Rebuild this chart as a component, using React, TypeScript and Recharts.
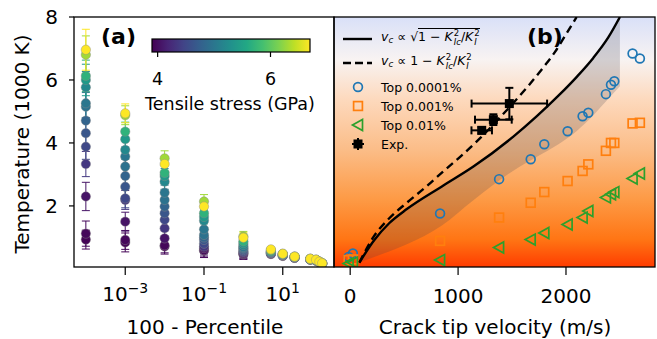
import React from 'react';
import { ComposedChart, Scatter, Line, Area, XAxis, YAxis, ErrorBar, CartesianGrid } from 'recharts';

const FONT = '"DejaVu Sans", Verdana, sans-serif';

// ---- panel (a): temperature vs 100 - percentile, one series per tensile stress
const percentiles = [1e-4, 1e-3, 1e-2, 1e-1, 1, 5, 10, 20, 50, 70, 85, 100];
const stresses = [3.92, 3.95, 4.05, 4.35, 4.5, 4.65, 4.8, 4.95, 5.0, 5.2, 5.4, 5.7, 6.3, 6.7];

// temperatures (1000 K), one value per stress, for each percentile column
const tempTop0p0001 = [0.93, 1.12, 2.3, 3.33, 3.88, 4.31, 4.71, 5.15, 5.26, 5.77, 6.0, 6.13, 6.8, 6.96];
const tempTop0p001 = [0.84, 0.92, 1.5, 2.19, 2.24, 2.61, 2.95, 3.25, 3.57, 3.78, 4.12, 4.36, 4.88, 4.94];
const tempTop0p01 = [0.71, 0.75, 0.97, 1.29, 1.56, 1.77, 1.98, 2.19, 2.42, 2.77, 2.95, 3.05, 3.51, 3.33];
const tempTop0p1 = [0.58, 0.6, 0.66, 0.71, 0.8, 0.92, 1.0, 1.08, 1.26, 1.53, 1.65, 1.77, 2.14, 1.98];
const tempTop1 = [0.46, 0.48, 0.5, 0.53, 0.56, 0.6, 0.64, 0.67, 0.7, 0.76, 0.82, 0.88, 1.03, 0.99];
const tempTop5 = [0.47, 0.48, 0.49, 0.5, 0.5, 0.51, 0.52, 0.53, 0.54, 0.55, 0.56, 0.57, 0.6, 0.62];
const tempTop10 = [0.41, 0.42, 0.42, 0.43, 0.43, 0.44, 0.44, 0.45, 0.45, 0.46, 0.46, 0.47, 0.48, 0.48];
const tempTop20 = [0.35, 0.35, 0.36, 0.36, 0.36, 0.37, 0.37, 0.37, 0.38, 0.38, 0.38, 0.39, 0.39, 0.39];
const tempTop50 = [0.29, 0.29, 0.3, 0.3, 0.3, 0.3, 0.31, 0.31, 0.31, 0.31, 0.32, 0.32, 0.32, 0.32];
const tempTop70 = [0.26, 0.26, 0.27, 0.27, 0.27, 0.27, 0.28, 0.28, 0.28, 0.28, 0.28, 0.29, 0.29, 0.29];
const tempTop85 = [0.21, 0.21, 0.21, 0.22, 0.22, 0.22, 0.22, 0.22, 0.23, 0.23, 0.23, 0.23, 0.23, 0.23];
const tempTop100 = [0.16, 0.16, 0.16, 0.17, 0.17, 0.17, 0.17, 0.17, 0.17, 0.18, 0.18, 0.18, 0.18, 0.18];
const columnTemps = [
  tempTop0p0001, tempTop0p001, tempTop0p01, tempTop0p1, tempTop1, tempTop5,
  tempTop10, tempTop20, tempTop50, tempTop70, tempTop85, tempTop100,
];
// error bars: first column per stress, the rest per column
const errTop0p0001 = [0.3, 0.4, 0.45, 0.4, 0.4, 0.42, 0.45, 0.45, 0.45, 0.5, 0.5, 0.5, 0.6, 0.65];
const columnErr = [0, 0.3, 0.24, 0.22, 0.16, 0.03, 0, 0, 0, 0, 0, 0];

// ---- panel (b): temperature vs crack tip velocity
const velocities = [-15, 25, 833, 1380, 1673, 1799, 2015, 2154, 2207, 2370, 2417, 2448, 2617, 2685];
const tempBlue = [0.38, 0.49, 1.76, 2.85, 3.48, 3.96, 4.37, 4.85, 4.96, 5.55, 5.85, 5.96, 6.84, 6.68];
const tempOrange = [0.28, 0.3, 0.89, 1.63, 2.1, 2.44, 2.79, 3.11, 3.32, 3.75, 4.0, 4.0, 4.62, 4.64];
const tempGreen = [0.17, 0.2, 0.28, 0.68, 0.93, 1.14, 1.41, 1.63, 1.84, 2.27, 2.37, 2.44, 2.87, 3.03];

const expV = [1475, 1327, 1219];
const expT = [5.25, 4.74, 4.4];
const expVErr = [350, 170, 95];
const expTErr = [0.5, 0.17, 0.1];

const solidV = [85, 222, 361, 525, 850, 1142, 1512, 1730, 1930, 2100, 2253, 2392, 2500];
const solidT = [0.2, 0.91, 1.45, 1.9, 2.62, 3.25, 4.2, 4.85, 5.5, 6.1, 6.7, 7.35, 8.0];
const dashedV = [85, 213, 360, 528, 700, 864, 1019, 1204, 1380, 1528, 1660, 1790, 1900, 1991, 2099];
const dashedT = [0.2, 1.0, 1.6, 2.11, 2.6, 3.1, 3.56, 4.15, 4.78, 5.33, 5.85, 6.4, 6.9, 7.4, 8.0];

// shaded band: upper edge follows the solid curve, lower edge
const bandV = [85, 222, 361, 525, 850, 1142, 1512, 1730, 1930, 2100, 2253, 2392, 2500];
const bandLow = [0.2, 0.38, 0.55, 0.78, 1.38, 2.18, 3.12, 3.56, 3.96, 4.38, 4.88, 5.4, 5.8];
const bandHigh = [0.2, 0.91, 1.45, 1.9, 2.62, 3.25, 4.2, 4.85, 5.5, 6.1, 6.7, 7.35, 8.0];

const VIRIDIS = ['#440154', '#482475', '#414487', '#355f8d', '#2a788e', '#21918c', '#22a884', '#44bf70', '#7ad151', '#bddf26', '#fde725'];
const STRESS_MIN = 3.9;
const STRESS_MAX = 6.7;

function hexToRgb(h: string) {
  return [parseInt(h.slice(1, 3), 16), parseInt(h.slice(3, 5), 16), parseInt(h.slice(5, 7), 16)];
}

function viridis(t: number): string {
  const c = Math.max(0, Math.min(1, t)) * 10;
  const i = Math.min(9, Math.floor(c));
  const f = c - i;
  const a = hexToRgb(VIRIDIS[i]);
  const b = hexToRgb(VIRIDIS[i + 1]);
  const m = a.map((v, k) => Math.round(v + (b[k] - v) * f));
  return `rgb(${m[0]},${m[1]},${m[2]})`;
}

const stressSeries = stresses.map((s, si) => ({
  stress: s,
  color: viridis((s - STRESS_MIN) / (STRESS_MAX - STRESS_MIN)),
  points: percentiles.map((p, ci) => ({
    p,
    t: columnTemps[ci][si],
    e: ci === 0 ? errTop0p0001[si] : columnErr[ci],
  })),
}));

const toPoints = (xs: number[], ys: number[]) => xs.map((x, i) => ({ x, y: ys[i] }));
const bluePts = toPoints(velocities, tempBlue);
const orangePts = toPoints(velocities, tempOrange);
const greenPts = toPoints(velocities, tempGreen);
const solidPts = toPoints(solidV, solidT);
const dashedPts = toPoints(dashedV, dashedT);
const bandData = bandV.map((x, i) => ({ x, y: [bandLow[i], bandHigh[i]] }));
const expPts = expV.map((x, i) => ({ x, y: expT[i], ex: expVErr[i], ey: expTErr[i] }));

const BLUE = '#1f77b4';
const ORANGE = '#ff7f0e';
const GREEN = '#2ca02c';

function LogTick({ x, y, payload }: any) {
  const e = Math.round(Math.log10(payload.value));
  const label = e < 0 ? '\u2212' + Math.abs(e) : String(e);
  return (
    <text x={x} y={y + 24} textAnchor="middle" fontSize={20} fontFamily={FONT} fill="#000">
      <tspan>10</tspan>
      <tspan dy={-8} fontSize={14}>{label}</tspan>
    </text>
  );
}

const circleShape = (p: any) => (
  <circle cx={p.cx} cy={p.cy} r={4.4} fill="none" stroke={BLUE} strokeWidth={1.7} />
);
const squareShape = (p: any) => (
  <rect x={p.cx - 4.4} y={p.cy - 4.4} width={8.8} height={8.8} fill="none" stroke={ORANGE} strokeWidth={1.7} />
);
const triangleShape = (p: any) => (
  <polygon
    points={`${p.cx - 5.5},${p.cy} ${p.cx + 4.5},${p.cy - 5.5} ${p.cx + 4.5},${p.cy + 5.5}`}
    fill="none"
    stroke={GREEN}
    strokeWidth={1.7}
  />
);
const expShape = (p: any) => (
  <rect x={p.cx - 4.5} y={p.cy - 4.5} width={9} height={9} fill="#000" />
);

const Scripts = ({ sup, sub }: { sup: string; sub: string }) => (
  <span
    style={{
      display: 'inline-flex',
      flexDirection: 'column',
      fontSize: '0.68em',
      lineHeight: 1,
      verticalAlign: '5px',
      marginLeft: 1,
    }}
  >
    <span>{sup}</span>
    <span style={{ fontStyle: 'italic' }}>{sub}</span>
  </span>
);

const Vc = () => (
  <>
    <i>v</i>
    <span style={{ fontSize: '0.7em', fontStyle: 'italic', verticalAlign: '-0.25em' }}>c</span>
  </>
);

const Ratio = () => (
  <>
    1 {'\u2212'} <i>K</i>
    <Scripts sup="2" sub="Ic" />/<i>K</i>
    <Scripts sup="2" sub="I" />
  </>
);

export default function App() {
  const legendRows = [39, 63, 87, 106, 125, 144];
  return (
    <div style={{ position: 'absolute', left: 0, top: 0, width: 657, height: 339, background: '#fff', fontFamily: FONT }}>
      <div style={{ position: 'absolute', left: 0, top: 0 }}>
        <ComposedChart width={334} height={339} margin={{ top: 17, right: 0, bottom: 0, left: 0 }}>
          <XAxis
            type="number"
            dataKey="p"
            scale="log"
            domain={[5e-5, 200]}
            ticks={[1e-3, 1e-1, 10]}
            allowDataOverflow
            height={72}
            axisLine={false}
            tickSize={8}
            tickLine={{ stroke: '#000', strokeWidth: 1.2 }}
            tick={<LogTick />}
          />
          <YAxis
            type="number"
            dataKey="t"
            domain={[0.06, 8]}
            ticks={[2, 4, 6, 8]}
            allowDataOverflow
            width={74}
            axisLine={false}
            tickSize={5}
            tickMargin={11}
            tickLine={{ stroke: '#000', strokeWidth: 1.2 }}
            tick={{ fontSize: 20, fill: '#000', fontFamily: FONT }}
          />
          {stressSeries.map((s) => (
            <Scatter
              key={s.stress}
              data={s.points}
              dataKey="t"
              isAnimationActive={false}
              shape={(p: any) => (
                <circle cx={p.cx} cy={p.cy} r={4.7} fill={s.color} stroke="#888" strokeOpacity={0.7} strokeWidth={0.6} />
              )}
            >
              <ErrorBar dataKey="e" direction="y" stroke={s.color} strokeWidth={1} width={4} />
            </Scatter>
          ))}
        </ComposedChart>
      </div>

      <div style={{ position: 'absolute', left: 334, top: 0 }}>
        <ComposedChart width={323} height={339} data={bandData} margin={{ top: 17, right: 2, bottom: 0, left: 0 }}>
          <defs>
            <linearGradient id="bgGrad" x1="0" y1="0" x2="0" y2="1">
              <stop offset="0" stopColor="#d9e0f8" />
              <stop offset="0.17" stopColor="#f8f3f2" />
              <stop offset="0.33" stopColor="#fdd9bd" />
              <stop offset="0.53" stopColor="#fbbd88" />
              <stop offset="0.73" stopColor="#fd9a45" />
              <stop offset="0.89" stopColor="#ff7514" />
              <stop offset="1" stopColor="#ff3c00" />
            </linearGradient>
          </defs>
          <CartesianGrid fill="url(#bgGrad)" fillOpacity={1} stroke="none" />
          <XAxis
            type="number"
            dataKey="x"
            domain={[-150, 2825]}
            ticks={[0, 1000, 2000]}
            allowDataOverflow
            height={72}
            axisLine={false}
            tickSize={8}
            tickMargin={14}
            tickLine={{ stroke: '#000', strokeWidth: 1.2 }}
            tick={{ fontSize: 20, fill: '#000', fontFamily: FONT }}
          />
          <YAxis type="number" dataKey="y" domain={[0.06, 8]} allowDataOverflow hide />
          <Area
            type="monotone"
            dataKey="y"
            fill="#3a3a4a"
            fillOpacity={0.2}
            stroke="none"
            activeDot={false}
            isAnimationActive={false}
          />
          <Line data={dashedPts} type="monotone" dataKey="y" stroke="#000" strokeWidth={2.4} strokeDasharray="8 5" dot={false} activeDot={false} isAnimationActive={false} />
          <Line data={solidPts} type="monotone" dataKey="y" stroke="#000" strokeWidth={2.4} dot={false} activeDot={false} isAnimationActive={false} />
          <Scatter data={bluePts} dataKey="y" shape={circleShape} isAnimationActive={false} />
          <Scatter data={orangePts} dataKey="y" shape={squareShape} isAnimationActive={false} />
          <Scatter data={greenPts} dataKey="y" shape={triangleShape} isAnimationActive={false} />
          <Scatter data={expPts} dataKey="y" shape={expShape} isAnimationActive={false}>
            <ErrorBar dataKey="ex" direction="x" stroke="#000" strokeWidth={2} width={4} />
            <ErrorBar dataKey="ey" direction="y" stroke="#000" strokeWidth={2} width={4} />
          </Scatter>
        </ComposedChart>
      </div>

      <svg width={657} height={339} style={{ position: 'absolute', left: 0, top: 0, pointerEvents: 'none' }}>
        <defs>
          <linearGradient id="cbGrad" x1="0" y1="0" x2="1" y2="0">
            {VIRIDIS.map((c, i) => (
              <stop key={c} offset={i / 10} stopColor={c} />
            ))}
          </linearGradient>
        </defs>
        {/* frames */}
        <rect x={74} y={17} width={260} height={250} fill="none" stroke="#000" strokeWidth={1.3} />
        <rect x={334} y={17} width={321} height={250} fill="none" stroke="#000" strokeWidth={1.3} />

        {/* axis labels */}
        <text x={29} y={144} transform="rotate(-90, 29, 144)" textAnchor="middle" fontSize={20} fontFamily={FONT} fill="#000">
          Temperature (1000 K)
        </text>
        <text x={205} y={334} textAnchor="middle" fontSize={20} fontFamily={FONT} fill="#000">
          100 - Percentile
        </text>
        <text x={495} y={334} textAnchor="middle" fontSize={20} fontFamily={FONT} fill="#000">
          Crack tip velocity (m/s)
        </text>

        {/* panel tags */}
        <text x={101} y={44} fontSize={22} fontWeight="bold" fontFamily={FONT} fill="#000">(a)</text>
        <text x={527} y={44} fontSize={22} fontWeight="bold" fontFamily={FONT} fill="#000">(b)</text>

        {/* colorbar */}
        <rect x={152} y={39} width={158} height={13} fill="url(#cbGrad)" stroke="#000" strokeWidth={1.2} />
        {[4, 6].map((v) => {
          const x = 152 + ((v - STRESS_MIN) / (STRESS_MAX - STRESS_MIN)) * 158;
          return (
            <g key={v}>
              <line x1={x} x2={x} y1={52} y2={57} stroke="#000" strokeWidth={1.2} />
              <text x={x} y={85} textAnchor="middle" fontSize={17.5} fontFamily={FONT} fill="#000">{v}</text>
            </g>
          );
        })}
        <text x={230} y={110} textAnchor="middle" fontSize={17.5} fontFamily={FONT} fill="#000">
          Tensile stress (GPa)
        </text>

        {/* legend handles */}
        <line x1={343} x2={372} y1={legendRows[0]} y2={legendRows[0]} stroke="#000" strokeWidth={2.4} />
        <line x1={343} x2={372} y1={legendRows[1]} y2={legendRows[1]} stroke="#000" strokeWidth={2.4} strokeDasharray="8 4" />
        {circleShape({ cx: 358, cy: legendRows[2] })}
        {squareShape({ cx: 358, cy: legendRows[3] })}
        {triangleShape({ cx: 358, cy: legendRows[4] })}
        <g stroke="#000" strokeWidth={2}>
          <line x1={352} x2={364} y1={legendRows[5]} y2={legendRows[5]} />
          <line x1={358} x2={358} y1={legendRows[5] - 6} y2={legendRows[5] + 6} />
        </g>
        {expShape({ cx: 358, cy: legendRows[5] })}
        {['Top 0.0001%', 'Top 0.001%', 'Top 0.01%', 'Exp.'].map((t, i) => (
          <text key={t} x={381} y={legendRows[i + 2] + 4.5} fontSize={12.5} fontFamily={FONT} fill="#000">
            {t}
          </text>
        ))}
      </svg>

      <div style={{ position: 'absolute', left: 381, top: legendRows[0] - 12, fontSize: 12.5, lineHeight: '20px', whiteSpace: 'nowrap', color: '#000' }}>
        <Vc /> {'\u221D'} {'\u221A'}
        <span style={{ display: 'inline-block', borderTop: '1px solid #000', paddingTop: 0, lineHeight: '16px' }}>
          <Ratio />
        </span>
      </div>
      <div style={{ position: 'absolute', left: 381, top: legendRows[1] - 12, fontSize: 12.5, lineHeight: '20px', whiteSpace: 'nowrap', color: '#000' }}>
        <Vc /> {'\u221D'} <Ratio />
      </div>
    </div>
  );
}
